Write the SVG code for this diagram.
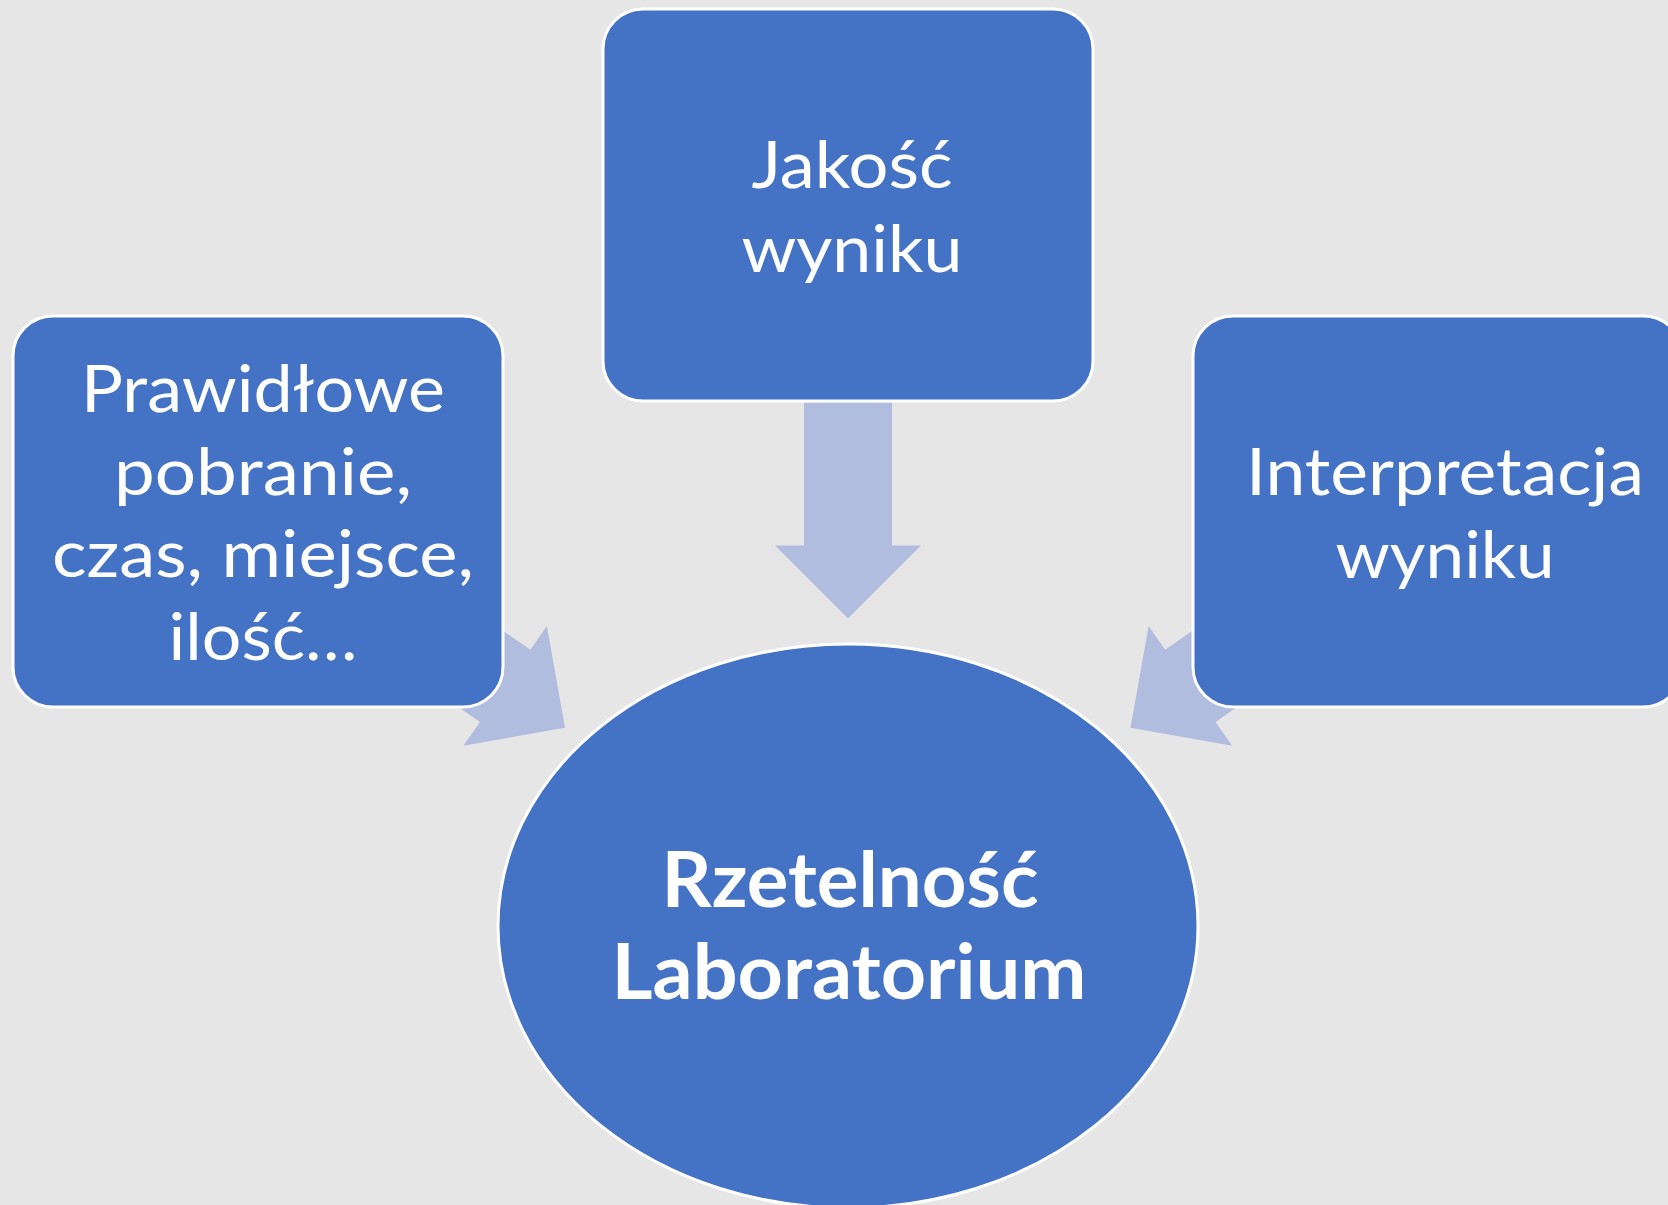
<svg xmlns="http://www.w3.org/2000/svg" width="1668" height="1205" viewBox="0 0 1668 1205">
  <style>
    .node { fill: #4472C4; stroke: #FFFFFF; stroke-width: 3; }
    .arrow { fill: #B1BDDF; stroke: none; }
    .lbl { fill: #FFFFFF; font-family: Lato, "Liberation Sans", sans-serif; font-size: 66px; text-anchor: middle; }
    .bold { font-weight: bold; font-size: 76px; }
  </style>
  <defs>
    <path id="arr" d="M0,0 L-73,-73 L-73,-44 L-216,-44 L-216,44 L-73,44 L-73,73 Z"/>
  </defs>
  <rect width="1668" height="1205" fill="#E7E6E6"/>
  <g id="connectors">
    <use href="#arr" class="arrow" transform="translate(848,618.5) rotate(90)"/>
    <use href="#arr" class="arrow" transform="translate(565,727.7) rotate(34.9)"/>
    <use href="#arr" class="arrow" transform="translate(1130.5,727.7) rotate(145.1)"/>
  </g>
  <g id="node-jakosc">
    <rect class="node" x="603" y="9" width="490" height="392" rx="40" ry="40"/>
    <text class="lbl" x="852" y="188" textLength="201" lengthAdjust="spacingAndGlyphs">Jakość</text>
    <text class="lbl" x="852" y="272" textLength="221" lengthAdjust="spacingAndGlyphs">wyniku</text>
  </g>
  <g id="node-prawidlowe">
    <rect class="node" x="13" y="316" width="490" height="391" rx="40" ry="40"/>
    <text class="lbl" x="263" y="412" textLength="364" lengthAdjust="spacingAndGlyphs">Prawidłowe</text>
    <text class="lbl" x="263" y="495" textLength="298" lengthAdjust="spacingAndGlyphs">pobranie,</text>
    <text class="lbl" x="263" y="577" textLength="422" lengthAdjust="spacingAndGlyphs">czas, miejsce,</text>
    <text class="lbl" x="263" y="660" textLength="189" lengthAdjust="spacingAndGlyphs">ilość…</text>
  </g>
  <g id="node-interpretacja">
    <rect class="node" x="1193" y="316" width="490" height="391" rx="40" ry="40"/>
    <text class="lbl" x="1445" y="495" textLength="398" lengthAdjust="spacingAndGlyphs">Interpretacja</text>
    <text class="lbl" x="1445" y="578" textLength="219" lengthAdjust="spacingAndGlyphs">wyniku</text>
  </g>
  <g id="node-rzetelnosc">
    <ellipse class="node" cx="848" cy="926" rx="350" ry="282"/>
    <text class="lbl bold" x="850" y="907" textLength="377" lengthAdjust="spacingAndGlyphs">Rzetelność</text>
    <text class="lbl bold" x="849" y="999" textLength="475" lengthAdjust="spacingAndGlyphs">Laboratorium</text>
  </g>
</svg>
